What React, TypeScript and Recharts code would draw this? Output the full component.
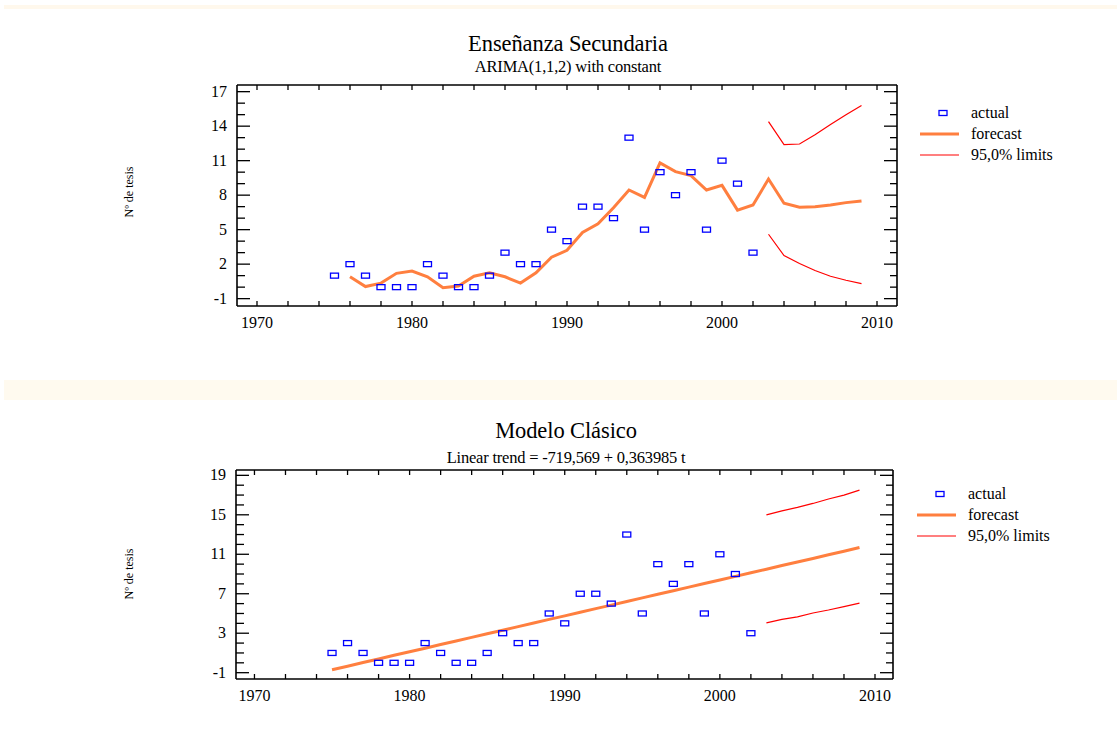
import React from "react";
import { ComposedChart, Line, Scatter, XAxis, YAxis } from "recharts";

// años
const years = [
  1975, 1976, 1977, 1978, 1979, 1980, 1981, 1982, 1983, 1984, 1985, 1986,
  1987, 1988, 1989, 1990, 1991, 1992, 1993, 1994, 1995, 1996, 1997, 1998,
  1999, 2000, 2001, 2002, 2003, 2004, 2005, 2006, 2007, 2008, 2009,
];

// Nº de tesis observado (1975-2002)
const actual = [1, 2, 1, 0, 0, 0, 2, 1, 0, 0, 1, 3, 2, 2, 5, 4, 7, 7, 6, 13, 5, 10, 8, 10, 5, 11, 9, 3];

// ARIMA(1,1,2): previsión 1976-2009, límites 2003-2009
const arimaForecast = [
  0.9, 0.05, 0.35, 1.2, 1.4, 0.9, -0.05, 0.1, 0.95, 1.25, 0.9, 0.35, 1.25, 2.6,
  3.2, 4.75, 5.5, 6.9, 8.45, 7.8, 10.8, 10.05, 9.7, 8.45, 8.85, 6.7, 7.15, 9.4,
  7.3, 6.95, 7.0, 7.15, 7.35, 7.5,
];
const arimaUpper = [14.4, 12.4, 12.45, 13.25, 14.15, 15.0, 15.8];
const arimaLower = [4.6, 2.75, 2.05, 1.45, 0.95, 0.6, 0.3];

// Modelo clásico: tendencia lineal 1975-2009, límites 2003-2009
const linearForecast = [
  -0.7, -0.34, 0.03, 0.39, 0.76, 1.12, 1.48, 1.85, 2.21, 2.58, 2.94, 3.3, 3.67,
  4.03, 4.4, 4.76, 5.12, 5.49, 5.85, 6.22, 6.58, 6.94, 7.31, 7.67, 8.04, 8.4,
  8.76, 9.13, 9.49, 9.86, 10.22, 10.58, 10.95, 11.31, 11.68,
];
const linearUpper = [15.0, 15.4, 15.75, 16.15, 16.6, 17.0, 17.5];
const linearLower = [4.05, 4.4, 4.65, 5.05, 5.35, 5.7, 6.05];

const xTicks = [1970, 1972, 1974, 1976, 1978, 1980, 1982, 1984, 1986, 1988, 1990, 1992, 1994, 1996, 1998, 2000, 2002, 2004, 2006, 2008, 2010];
const xLabels = [1970, 1980, 1990, 2000, 2010];
const topYTicks = [-1, 0, 1, 2, 3, 4, 5, 6, 7, 8, 9, 10, 11, 12, 13, 14, 15, 16, 17];
const topYLabels = [-1, 2, 5, 8, 11, 14, 17];
const botYTicks = [-1, 0, 1, 2, 3, 4, 5, 6, 7, 8, 9, 10, 11, 12, 13, 14, 15, 16, 17, 18, 19];
const botYLabels = [-1, 3, 7, 11, 15, 19];

const FONT = "'Liberation Serif', 'Times New Roman', serif";
const ORANGE = "#ff7f3f";
const RED = "#ff0000";
const BLUE = "#0000ff";

const fromYear = (start: number, vals: number[]) => {
  const m: Record<number, number> = {};
  vals.forEach((v, i) => (m[start + i] = v));
  return m;
};

const buildRows = (f: Record<number, number>, up: Record<number, number>, lo: Record<number, number>) =>
  years.map((year) => ({ year, forecast: f[year], upper: up[year], lower: lo[year] }));

const topRows = buildRows(fromYear(1976, arimaForecast), fromYear(2003, arimaUpper), fromYear(2003, arimaLower));
const botRows = buildRows(fromYear(1975, linearForecast), fromYear(2003, linearUpper), fromYear(2003, linearLower));
const actualRows = actual.map((v, i) => ({ year: years[i], actual: v }));

const BottomTick = (props: any) => {
  const { x, y, payload } = props;
  return (
    <g>
      <line x1={x} y1={y} x2={x} y2={y - 5} stroke="#000" strokeWidth={1.3} />
      {xLabels.includes(payload.value) && (
        <text x={x} y={y + 22} textAnchor="middle" fontSize={16} fontFamily={FONT} fill="#000">
          {payload.value}
        </text>
      )}
    </g>
  );
};

const TopTick = (props: any) => {
  const { x, y } = props;
  return <line x1={x} y1={y} x2={x} y2={y + 5} stroke="#000" strokeWidth={1.3} />;
};

const makeLeftTick = (labels: number[]) => (props: any) => {
  const { x, y, payload } = props;
  const major = labels.includes(payload.value);
  return (
    <g>
      <line x1={x} y1={y} x2={x + (major ? 13 : 8)} y2={y} stroke="#000" strokeWidth={1.3} />
      {major && (
        <text x={x - 10} y={y + 5} textAnchor="end" fontSize={16} fontFamily={FONT} fill="#000">
          {payload.value}
        </text>
      )}
    </g>
  );
};

const makeRightTick = (labels: number[]) => (props: any) => {
  const { x, y, payload } = props;
  const major = labels.includes(payload.value);
  return <line x1={x} y1={y} x2={x - (major ? 13 : 7)} y2={y} stroke="#000" strokeWidth={1.3} />;
};

const RectDot = (props: any) => {
  const { cx, cy } = props;
  return <rect x={cx - 4} y={cy - 2.5} width={8} height={5} fill="none" stroke={BLUE} strokeWidth={1.3} />;
};

type PanelProps = {
  rows: any[];
  top: number;
  marginTop: number;
  marginBottom: number;
  marginLeft: number;
  marginRight: number;
  xDomain: [number, number];
  yDomain: [number, number];
  yTicks: number[];
  yLabels: number[];
};

function Panel({ rows, top, marginTop, marginBottom, marginLeft, marginRight, xDomain, yDomain, yTicks, yLabels }: PanelProps) {
  return (
    <div style={{ position: "absolute", left: 0, top }}>
      <ComposedChart
        width={1117}
        height={374}
        data={rows}
        margin={{ top: marginTop, right: marginRight, bottom: marginBottom, left: marginLeft }}
      >
        <XAxis
          dataKey="year"
          type="number"
          domain={xDomain}
          allowDataOverflow
          ticks={xTicks}
          interval={0}
          height={40}
          tickSize={0}
          tickMargin={0}
          tickLine={false}
          tick={<BottomTick />}
          axisLine={{ stroke: "#000", strokeWidth: 1.6 }}
        />
        <XAxis
          xAxisId="top"
          orientation="top"
          dataKey="year"
          type="number"
          domain={xDomain}
          allowDataOverflow
          ticks={xTicks}
          interval={0}
          height={1}
          tickSize={0}
          tickMargin={0}
          tickLine={false}
          tick={<TopTick />}
          axisLine={{ stroke: "#000", strokeWidth: 1.6 }}
        />
        <YAxis
          type="number"
          domain={yDomain}
          allowDataOverflow
          ticks={yTicks}
          interval={0}
          width={236}
          tickSize={0}
          tickMargin={0}
          tickLine={false}
          tick={makeLeftTick(yLabels)}
          axisLine={{ stroke: "#000", strokeWidth: 1.6 }}
        />
        <YAxis
          yAxisId="right"
          orientation="right"
          type="number"
          domain={yDomain}
          allowDataOverflow
          ticks={yTicks}
          interval={0}
          width={1}
          tickSize={0}
          tickMargin={0}
          tickLine={false}
          tick={makeRightTick(yLabels)}
          axisLine={{ stroke: "#000", strokeWidth: 1.6 }}
        />
        <Line dataKey="upper" type="linear" stroke={RED} strokeWidth={1.2} dot={false} isAnimationActive={false} />
        <Line dataKey="lower" type="linear" stroke={RED} strokeWidth={1.2} dot={false} isAnimationActive={false} />
        <Line dataKey="forecast" type="linear" stroke={ORANGE} strokeWidth={3} dot={false} isAnimationActive={false} />
        <Scatter data={actualRows} dataKey="actual" shape={<RectDot />} isAnimationActive={false} />
      </ComposedChart>
    </div>
  );
}

const Legend2 = ({ x, y }: { x: number; y: number }) => (
  <g fontFamily={FONT} fontSize={16} fill="#000">
    <rect x={x + 15} y={y - 2.5} width={8} height={5} fill="none" stroke={BLUE} strokeWidth={1.3} />
    <text x={x + 47} y={y + 5}>actual</text>
    <line x1={x - 4} y1={y + 21} x2={x + 35} y2={y + 21} stroke={ORANGE} strokeWidth={3} />
    <text x={x + 47} y={y + 26}>forecast</text>
    <line x1={x - 4} y1={y + 42} x2={x + 35} y2={y + 42} stroke={RED} strokeWidth={1.2} />
    <text x={x + 47} y={y + 47}>95,0% limits</text>
  </g>
);

export default function App() {
  return (
    <div style={{ position: "absolute", left: 0, top: 0, width: 1117, height: 749, background: "#fff", fontFamily: FONT }}>
      <div style={{ position: "absolute", left: 4, top: 5, width: 1113, height: 4, background: "#fff8ec" }} />
      <div style={{ position: "absolute", left: 4, top: 380, width: 1113, height: 20, background: "#fffaef" }} />
      <Panel
        rows={topRows}
        top={0}
        marginTop={84}
        marginBottom={28}
        marginLeft={1}
        marginRight={219}
        xDomain={[1968.71, 2011.29]}
        yDomain={[-1.64, 17.58]}
        yTicks={topYTicks}
        yLabels={topYLabels}
      />
      <Panel
        rows={botRows}
        top={375}
        marginTop={94}
        marginBottom={30}
        marginLeft={0}
        marginRight={223}
        xDomain={[1968.81, 2011.16]}
        yDomain={[-1.64, 19.54]}
        yTicks={botYTicks}
        yLabels={botYLabels}
      />
      <svg width={1117} height={749} style={{ position: "absolute", left: 0, top: 0, pointerEvents: "none" }}>
        <g fontFamily={FONT} fill="#000" textAnchor="middle">
          <text x={568} y={51} fontSize={22.5} letterSpacing={-0.1}>Enseñanza Secundaria</text>
          <text x={568} y={72} fontSize={16.5} letterSpacing={-0.2}>ARIMA(1,1,2) with constant</text>
          <text x={566} y={438} fontSize={22.5} letterSpacing={-0.1}>Modelo Clásico</text>
          <text x={566} y={463} fontSize={16.5} letterSpacing={-0.2}>Linear trend = -719,569 + 0,363985 t</text>
          <text transform="translate(133,192) rotate(-90)" fontSize={12}>Nº de tesis</text>
          <text transform="translate(133,574) rotate(-90)" fontSize={12}>Nº de tesis</text>
        </g>
        <Legend2 x={924} y={113} />
        <Legend2 x={921} y={494} />
      </svg>
    </div>
  );
}
